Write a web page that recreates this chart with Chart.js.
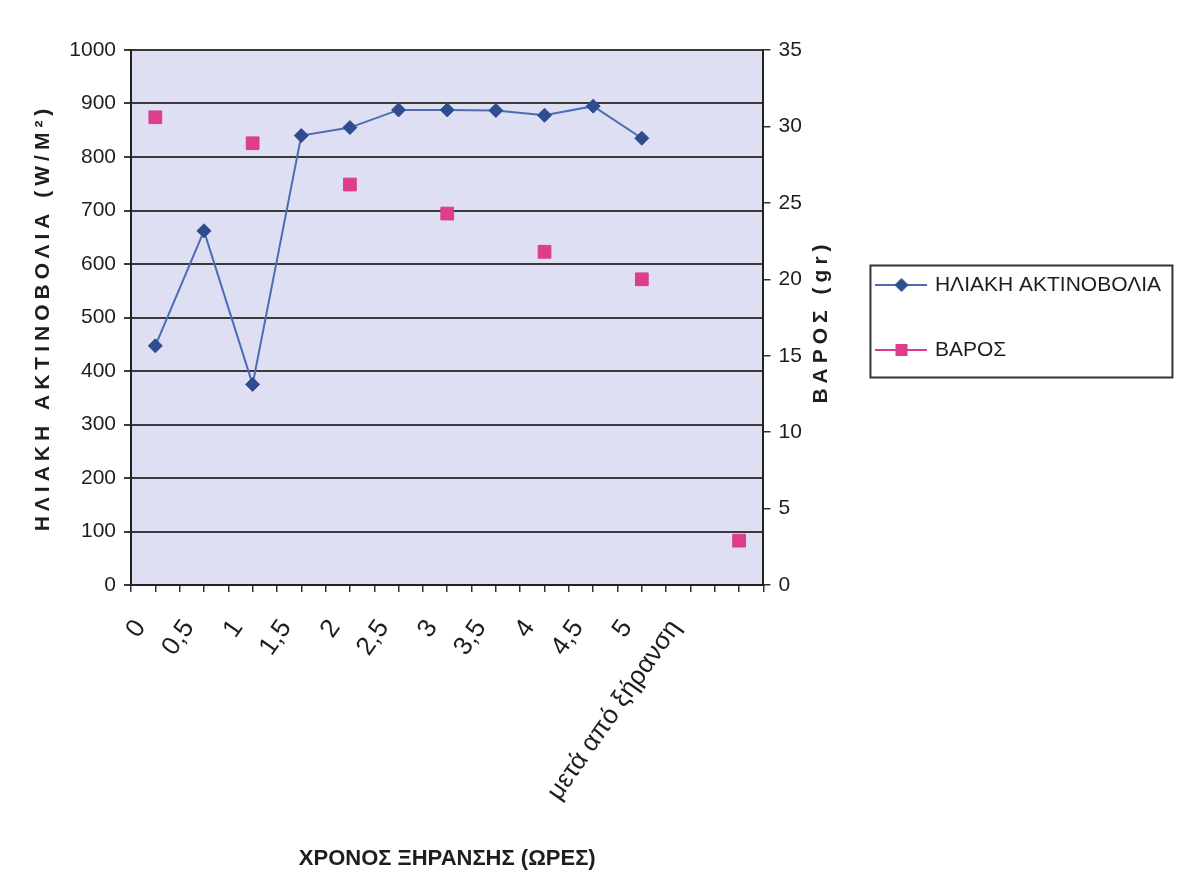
<!DOCTYPE html>
<html>
<head>
<meta charset="utf-8">
<script src="https://cdn.jsdelivr.net/npm/chart.js@4.4.1/dist/chart.umd.min.js"></script>
<style>
  html, body { margin: 0; padding: 0; background: #fff; }
  #wrap { width: 1179px; height: 888px; }
</style>
</head>
<body>
<div id="wrap"><canvas id="chart"></canvas></div>
<script>
(function() {

  "use strict";

  // x categories (drying time, hours) and the two series
  var timeLabels = ['0', '0,5', '1', '1,5', '2', '2,5', '3', '3,5', '4', '4,5', '5', 'μετά από ξήρανση'];
  var radiation = [447, 662, 375, 840, 855, 888, 888, 887, 878, 895, 835];
  var weightSlots = [0, 2, 4, 6, 8, 10, 12];
  var weight = [30.6, 28.9, 26.2, 24.3, 21.8, 20.0, 2.9];

  var FONT = '"Liberation Sans", Arial, sans-serif';
  var INK = '#1e1e1e';
  var BLUE_LINE = '#4a6db3';
  var BLUE_MARK = '#2e4d8e';
  var PINK = '#dd3d8a';

  // little line+marker sprites for the legend, like the Excel legend
  function legendMark(lineColor, markColor, shape) {
    var c = document.createElement('canvas');
    c.width = 52; c.height = 18;
    var g = c.getContext('2d');
    g.strokeStyle = lineColor; g.lineWidth = 2;
    g.beginPath(); g.moveTo(0, 9); g.lineTo(52, 9); g.stroke();
    g.fillStyle = markColor;
    if (shape === 'diamond') {
      g.beginPath(); g.moveTo(26, 2); g.lineTo(33, 9); g.lineTo(26, 16); g.lineTo(19, 9); g.closePath(); g.fill();
    } else {
      g.fillRect(20, 3, 12, 12);
    }
    return c;
  }
  var marks = [legendMark(BLUE_LINE, BLUE_MARK, 'diamond'), legendMark(PINK, PINK, 'square')];

  function sideTitle(ctx, text, x, y) {
    ctx.save();
    ctx.translate(x, y);
    ctx.rotate(-Math.PI / 2);
    ctx.font = 'bold 21px ' + FONT;
    ctx.letterSpacing = '5px';
    ctx.fillStyle = INK;
    ctx.textAlign = 'center';
    ctx.textBaseline = 'middle';
    ctx.fillText(text, 0, 0);
    ctx.restore();
  }

  var decor = {
    id: 'decor',
    beforeDraw: function(chart) {
      var a = chart.chartArea, ctx = chart.ctx;
      ctx.save();
      ctx.fillStyle = '#dedff3';
      ctx.fillRect(a.left, a.top, a.right - a.left, a.bottom - a.top);
      ctx.restore();
    },
    afterDraw: function(chart) {
      var a = chart.chartArea, ctx = chart.ctx;
      var midY = (a.top + a.bottom) / 2;
      sideTitle(ctx, 'ΗΛΙΑΚΗ ΑΚΤΙΝΟΒΟΛΙΑ (W/M²)', chart.scales.y.left + 43, midY);
      sideTitle(ctx, 'ΒΑΡΟΣ (gr)', chart.scales.y1.left + 58, midY + 4);

      var hb = chart.legend.legendHitBoxes;
      if (hb && hb.length) {
        var last = hb[hb.length - 1];
        ctx.save();
        ctx.strokeStyle = '#333';
        ctx.lineWidth = 2;
        ctx.strokeRect(hb[0].left - 8, hb[0].top - 9, 302, last.top + last.height - hb[0].top + 26);
        ctx.restore();
      }
    }
  };

  var plain = function(v) { return String(v); };

  var chart = new Chart(document.getElementById('chart'), {
    type: 'line',
    data: {
      datasets: [
        {
          label: 'ΗΛΙΑΚΗ ΑΚΤΙΝΟΒΟΛΙΑ',
          data: radiation.map(function(v, i) { return { x: i, y: v }; }),
          yAxisID: 'y',
          borderColor: BLUE_LINE,
          borderWidth: 2,
          tension: 0,
          fill: false,
          pointStyle: 'rectRot',
          pointRadius: 7,
          pointBackgroundColor: BLUE_MARK,
          pointBorderColor: BLUE_MARK,
          pointBorderWidth: 1
        },
        {
          label: 'ΒΑΡΟΣ',
          data: weight.map(function(v, i) { return { x: weightSlots[i], y: v }; }),
          yAxisID: 'y1',
          showLine: false,
          borderColor: PINK,
          pointStyle: 'rect',
          pointRadius: 9,
          pointBackgroundColor: PINK,
          pointBorderColor: PINK,
          pointBorderWidth: 1
        }
      ]
    },
    options: {
      responsive: true,
      maintainAspectRatio: false,
      animation: false,
      layout: { padding: { top: 50, right: 8, bottom: 0, left: 0 } },
      plugins: {
        tooltip: { enabled: false },
        legend: {
          position: 'right',
          fullSize: false,
          maxWidth: 1000,
          labels: {
            usePointStyle: true,
            pointStyleWidth: 46,
            padding: 44,
            color: INK,
            font: { family: FONT, size: 21 },
            generateLabels: function(ch) {
              var items = Chart.defaults.plugins.legend.labels.generateLabels(ch);
              items.forEach(function(it, i) { it.pointStyle = marks[i]; });
              return items;
            }
          }
        }
      },
      scales: {
        x: {
          type: 'linear',
          min: -0.5,
          max: timeLabels.length + 0.5,
          afterBuildTicks: function(scale) {
            var t = [];
            for (var v = -1; v <= 2 * timeLabels.length + 1; v++) t.push({ value: v / 2 });
            scale.ticks = t;
          },
          afterFit: function(scale) { scale.height = 303; },
          grid: { drawOnChartArea: false, color: '#333', lineWidth: 1.5, tickLength: 7 },
          border: { color: '#222', width: 2 },
          ticks: {
            autoSkip: false,
            minRotation: 55,
            maxRotation: 55,
            padding: 22,
            labelOffset: -15,
            color: INK,
            font: { family: FONT, size: 26 },
            callback: function(value) {
              var i = Math.round(value);
              if (Math.abs(value - i) > 1e-6 || timeLabels[i] === undefined) return '';
              return timeLabels[i];
            }
          },
          title: {
            display: true,
            text: 'ΧΡΟΝΟΣ ΞΗΡΑΝΣΗΣ (ΩΡΕΣ)',
            color: INK,
            font: { family: FONT, size: 22, weight: 'bold' },
            padding: { top: 0, bottom: 16 }
          }
        },
        y: {
          position: 'left',
          min: 0,
          max: 1000,
          afterFit: function(scale) { scale.width = 131; },
          ticks: { stepSize: 100, padding: 8, color: INK, font: { family: FONT, size: 21 }, callback: plain },
          grid: { color: '#3a3a3a', lineWidth: 2, tickLength: 7 },
          border: { color: '#222', width: 2 }
        },
        y1: {
          position: 'right',
          min: 0,
          max: 35,
          afterFit: function(scale) { scale.width = 71; },
          ticks: { stepSize: 5, padding: 8, color: INK, font: { family: FONT, size: 21 }, callback: plain },
          grid: { drawOnChartArea: false, color: '#333', lineWidth: 1.5, tickLength: 7 },
          border: { color: '#222', width: 2 }
        }
      }
    },
    plugins: [decor]
  });

})();
</script>
</body>
</html>
